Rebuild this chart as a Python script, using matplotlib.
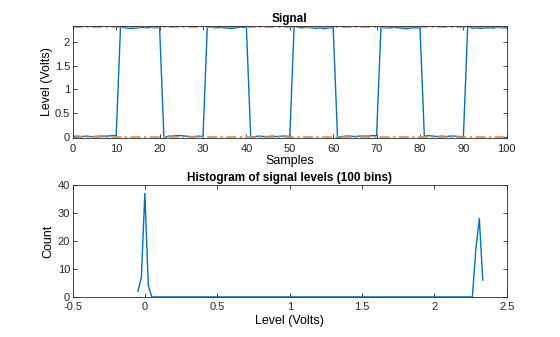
import numpy as np
import matplotlib
matplotlib.use("Agg")
import matplotlib.pyplot as plt

plt.rcParams['font.family'] = ['Liberation Sans', 'DejaVu Sans']

# sampled pulse signal (volts), samples 0..100
samples = np.arange(101)
signal = [
    0.00, 0.01, 0.00, 0.01, 0.00, 0.00, 0.01, 0.01, 0.01, 0.02, 0.02,
    2.33, 2.30, 2.29, 2.29, 2.30, 2.31, 2.30, 2.31, 2.30, 2.31,
    -0.03, 0.01, 0.01, 0.02, 0.02, 0.01, 0.00, 0.00, 0.01, 0.00,
    2.33, 2.31, 2.30, 2.31, 2.30, 2.29, 2.29, 2.31, 2.31, 2.31,
    -0.02, 0.00, 0.01, 0.00, 0.00, 0.01, 0.00, 0.01, 0.01, 0.00,
    2.34, 2.31, 2.30, 2.31, 2.30, 2.29, 2.30, 2.28, 2.30, 2.30,
    -0.02, 0.00, 0.01, 0.01, 0.00, 0.01, 0.01, 0.01, 0.02, 0.02,
    2.31, 2.30, 2.30, 2.31, 2.30, 2.29, 2.28, 2.30, 2.30, 2.30,
    0.01, 0.02, 0.01, 0.00, 0.01, 0.00, 0.01, 0.01, 0.00, 0.00,
    2.34, 2.29, 2.30, 2.29, 2.30, 2.30, 2.30, 2.31, 2.30, 2.30,
]
state_levels = [0.0, 2.31]

# histogram of levels (bin centres where the count changes)
hist_levels = [-0.05, -0.026, -0.002, 0.022, 0.046, 2.262, 2.286, 2.310, 2.334]
hist_counts = [2, 7, 37, 4, 0, 0, 17, 28, 6]

blue = '#0072BD'
orange = '#E08A55'

fig = plt.figure(figsize=(5.6, 3.37), dpi=100)
ax1 = fig.add_axes([0.130, 0.5905, 0.775, 0.3325])
ax2 = fig.add_axes([0.130, 0.119, 0.775, 0.332])

ax1.plot(samples, signal, color=blue, lw=1)
for lev in state_levels:
    ax1.axhline(lev, color=orange, lw=1.2, ls=(0, (6, 2, 1.5, 2)))
ax1.set_xlim(0, 100)
ax1.set_ylim(min(signal), max(signal))
ax1.set_xticks(np.arange(0, 101, 10))
ax1.set_yticks([0, 0.5, 1, 1.5, 2])
ax1.set_yticklabels(['0', '0.5', '1', '1.5', '2'])
ax1.set_title('Signal', fontsize=8.5, fontweight='bold', pad=3)
ax1.set_xlabel('Samples', fontsize=9, labelpad=1)
ax1.set_ylabel('Level (Volts)', fontsize=9, labelpad=1)

ax2.plot(hist_levels, hist_counts, color=blue, lw=1)
ax2.set_xlim(-0.5, 2.5)
ax2.set_ylim(0, 40)
ax2.set_xticks([-0.5, 0, 0.5, 1, 1.5, 2, 2.5])
ax2.set_xticklabels(['-0.5', '0', '0.5', '1', '1.5', '2', '2.5'])
ax2.set_yticks([0, 10, 20, 30, 40])
ax2.set_title('Histogram of signal levels (100 bins)', fontsize=8.5, fontweight='bold', pad=3)
ax2.set_xlabel('Level (Volts)', fontsize=9, labelpad=2)
ax2.set_ylabel('Count', fontsize=9, labelpad=2)

for ax in (ax1, ax2):
    ax.tick_params(direction='in', top=True, right=True, length=3, width=0.6,
                   labelsize=8, colors='#262626', pad=2)
    ax.tick_params(axis='x', pad=4)
    for s in ax.spines.values():
        s.set_linewidth(0.6)
        s.set_color('#262626')

fig.savefig('out.png', dpi=100)
